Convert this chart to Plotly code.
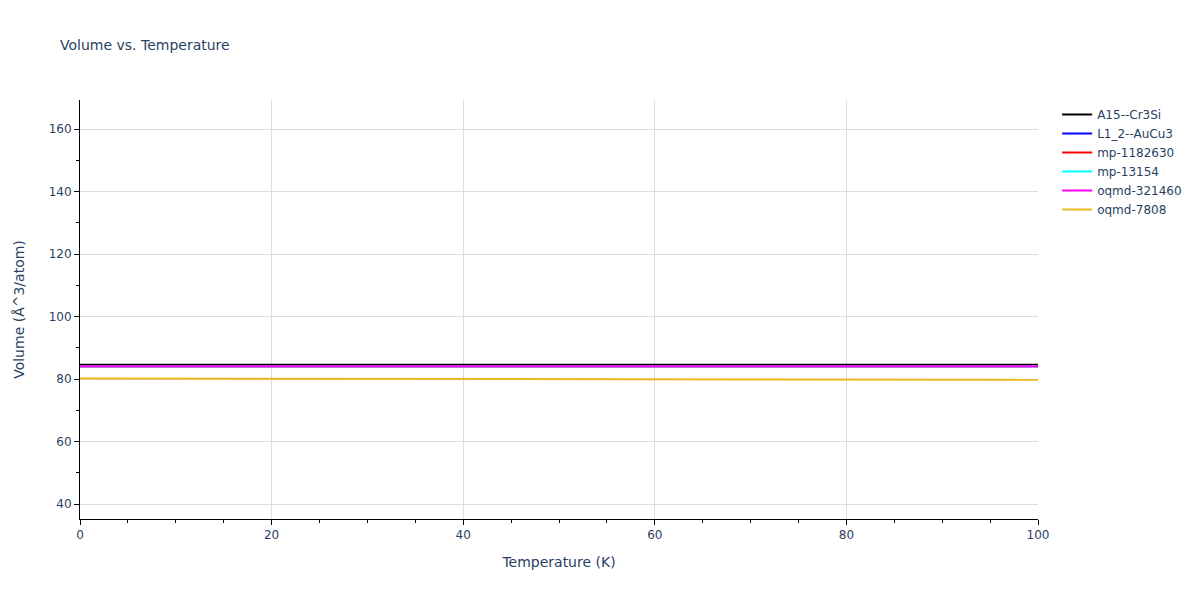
import plotly.graph_objects as go

temperature = [0, 10, 20, 30, 40, 50, 60, 70, 80, 90, 100]
a15_cr3si = [84.55, 84.55, 84.55, 84.55, 84.56, 84.56, 84.56, 84.57, 84.57, 84.58, 84.58]
l12_aucu3 = [84.1, 84.1, 84.1, 84.1, 84.1, 84.1, 84.1, 84.1, 84.1, 84.1, 84.1]
mp_1182630 = [84.1, 84.1, 84.1, 84.1, 84.1, 84.1, 84.1, 84.1, 84.1, 84.1, 84.1]
mp_13154 = [84.1, 84.1, 84.1, 84.1, 84.1, 84.1, 84.1, 84.1, 84.1, 84.1, 84.1]
oqmd_321460 = [84.1, 84.1, 84.1, 84.1, 84.1, 84.1, 84.1, 84.1, 84.1, 84.1, 84.1]
oqmd_7808 = [80.15, 80.12, 80.08, 80.04, 80.0, 79.96, 79.92, 79.88, 79.84, 79.8, 79.76]

series = [
    ("A15--Cr3Si", a15_cr3si, "black"),
    ("L1_2--AuCu3", l12_aucu3, "blue"),
    ("mp-1182630", mp_1182630, "red"),
    ("mp-13154", mp_13154, "cyan"),
    ("oqmd-321460", oqmd_321460, "magenta"),
    ("oqmd-7808", oqmd_7808, "#EBB81C"),
]

fig = go.Figure()
for name, vals, color in series:
    fig.add_trace(go.Scatter(x=temperature, y=vals, mode="lines", name=name,
                             line=dict(color=color, width=2)))

axis_common = dict(showline=True, linecolor="black", linewidth=1, ticks="outside",
                   tickcolor="black", gridcolor="#dddddd", zeroline=False,
                   minor=dict(ticks="outside", tickcolor="black", ticklen=3))

fig.update_layout(
    template="plotly_white",
    width=1200, height=600,
    font=dict(family="DejaVu Sans", size=12, color="#2a3f5f"),
    margin=dict(l=72, r=170, t=92, b=89),
    title=dict(text="Volume vs. Temperature", x=52 / 1200, xanchor="left",
               y=1 - 37 / 600, yanchor="middle", font=dict(size=14)),
    legend=dict(x=1.02, y=1, font=dict(size=12)),
    xaxis=dict(title="Temperature (K)", range=[0, 100], dtick=20, **axis_common),
    yaxis=dict(title=dict(text="Volume (Å^3/atom)", standoff=20), range=[35.2, 169.3],
               dtick=20, **axis_common),
)
fig.update_xaxes(minor_dtick=5)
fig.update_yaxes(minor_dtick=10)
fig.write_html("out.html")
